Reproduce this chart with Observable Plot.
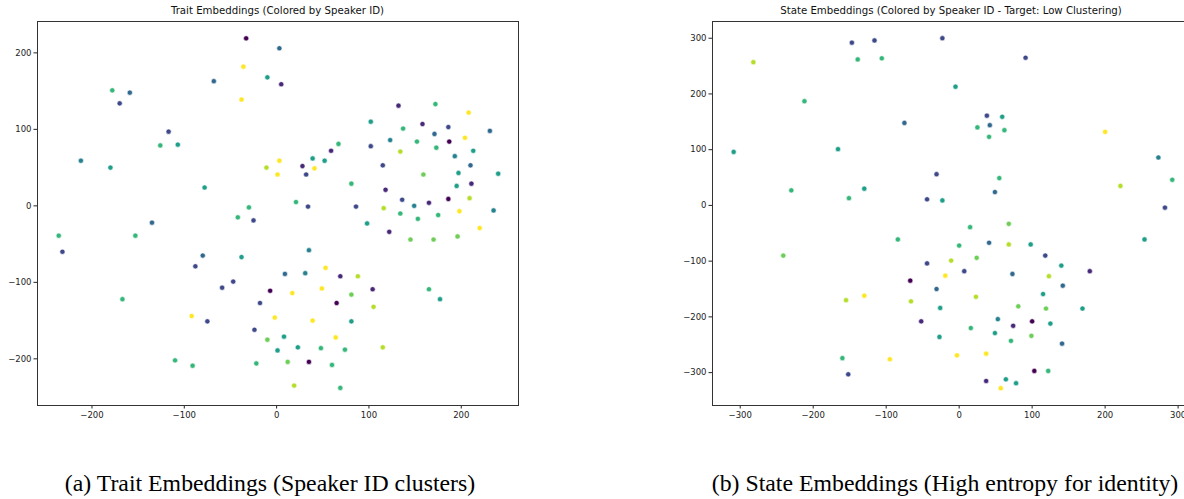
<!DOCTYPE html>
<html>
<head>
<meta charset="utf-8">
<script src="https://cdn.jsdelivr.net/npm/d3@7"></script>
<script src="https://cdn.jsdelivr.net/npm/@observablehq/plot@0.6"></script>
<style>
  html, body { margin: 0; padding: 0; background: #fff; }
  body { width: 1184px; height: 499px; position: relative; overflow: hidden; }
  .panel { position: absolute; top: 0; width: 600px; height: 499px; }
  .panel svg { max-width: none !important; }
  .title { position: absolute; top: 6px; font-family: "DejaVu Sans", sans-serif; font-size: 10.2px; line-height: 1; color: #111; transform: translateX(-50%); white-space: nowrap; }
  .caption { position: absolute; top: 472px; font-family: "Liberation Serif", "Times New Roman", serif; font-size: 23.8px; line-height: 1; color: #000; transform: translateX(-50%); white-space: nowrap; }
</style>
</head>
<body>
<div id="left" class="panel" style="left:0px"></div>
<div id="right" class="panel" style="left:600px"></div>
<div class="title" style="left:277.5px">Trait Embeddings (Colored by Speaker ID)</div>
<div class="title" style="left:951px">State Embeddings (Colored by Speaker ID - Target: Low Clustering)</div>
<div class="caption" style="left:270px">(a) Trait Embeddings (Speaker ID clusters)</div>
<div class="caption" style="left:945px">(b) State Embeddings (High entropy for identity)</div>
<script>
// ---- Trait embeddings (panel a) ----
const traitX = [-33,3,-36,-10,5,-68,-38,-178,-170,-159,-117,-126,-107,-212,-180,-78,-11,1,3,21,-30,-42,-25,
  132,172,208,102,137,158,186,171,231,123,152,173,187,204,102,134,193,213,67,59,39,52,28,32,41,115,159,197,210,240,
  81,118,195,211,34,86,136,149,165,186,209,116,198,235,134,153,175,98,122,145,170,196,220,
  -38,35,9,31,53,69,88,-7,17,49,81,104,65,-18,-2,39,105,81,-24,8,-10,1,23,48,74,64,115,-22,12,35,60,19,69,165,177,
  -236,-232,-153,-135,-80,-88,-47,-59,-167,-92,-75,-110,-91];
const traitY = [219,206,182,168,159,163,139,151,134,148,97,79,80,59,50,24,50,41,59,5,-2,-15,-19,
  131,133,122,110,101,107,103,94,98,86,84,76,84,89,78,71,65,72,81,72,62,59,52,41,49,53,41,43,53,42,
  29,21,26,29,-1,-1,8,0,4,9,10,-3,-7,-6,-10,-17,-12,-23,-34,-44,-44,-40,-29,
  -67,-58,-89,-88,-81,-92,-92,-111,-114,-108,-116,-109,-127,-127,-146,-150,-132,-151,-162,-171,-175,-189,-185,-186,-188,-172,-185,-206,-204,-204,-208,-235,-238,-109,-122,
  -39,-60,-39,-22,-65,-79,-99,-107,-122,-144,-151,-202,-209];
const traitSpeaker = [0,3,9,5,1,3,9,6,2,3,2,6,5,4,5,5,8,9,9,6,6,6,2,
  1,6,9,5,6,1,2,3,3,4,6,6,0,9,2,8,4,5,6,1,5,5,1,2,9,2,7,5,3,5,
  6,1,5,1,2,2,2,4,1,0,8,8,9,4,6,6,6,5,1,7,7,7,9,
  5,4,3,4,9,1,8,0,9,9,7,1,0,2,9,9,8,5,2,5,7,5,5,6,6,9,8,6,7,0,6,8,6,6,5,
  6,2,6,3,3,2,2,2,6,9,2,6,6];

// ---- State embeddings (panel b) ----
const stateX = [-282,-147,-116,-139,-106,-212,-75,-309,-166,-230,-151,-130,-31,-44,-23,91,-5,38,59,42,25,62,41,200,273,292,221,282,55,49,-23,
  254,15,68,0,41,68,98,-11,24,-44,118,140,179,7,-19,73,123,-31,142,23,115,-26,81,119,169,-52,53,100,74,125,16,49,99,71,-27,141,-3,37,103,122,37,64,78,57,
  -84,-241,-67,-155,-130,-66,-160,-95,-152];
const stateY = [257,292,296,262,264,187,148,96,101,27,13,30,56,11,300,265,213,161,159,144,140,135,123,132,86,46,35,-4,49,24,9,
  -61,-39,-33,-72,-67,-70,-70,-99,-94,-104,-90,-108,-118,-118,-126,-123,-127,-150,-144,-164,-159,-184,-181,-185,-185,-208,-204,-208,-216,-212,-220,-229,-234,-243,-236,-248,-269,-266,-297,-297,-315,-312,-319,-328,
  -61,-90,-135,-170,-162,-172,-274,-276,-303];
const stateSpeaker = [8,2,2,6,6,6,3,5,5,6,6,5,2,2,2,2,5,2,5,3,6,6,6,9,4,6,8,2,6,3,5,
  5,6,7,6,3,8,5,8,7,2,2,5,1,2,9,3,8,3,3,8,5,5,7,7,5,1,4,0,1,5,6,5,7,6,5,3,9,9,0,6,1,5,5,9,
  6,7,0,8,9,8,6,9,2];

const trait = traitX.map((x, i) => ({x, y: traitY[i], speaker: traitSpeaker[i]}));
const state = stateX.map((x, i) => ({x, y: stateY[i], speaker: stateSpeaker[i]}));

const fmt = d => d < 0 ? "\u2212" + Math.abs(d) : String(d);
const style = {fontFamily: "DejaVu Sans, sans-serif", fontSize: "8.5px", color: "#222", background: "white", overflow: "visible", maxWidth: "none"};

function panel(data, opts) {
  return Plot.plot({
    width: opts.width, height: 499,
    marginLeft: opts.ml, marginRight: opts.mr, marginTop: 21, marginBottom: 94,
    style,
    x: {domain: opts.xd, ticks: opts.xt, tickFormat: fmt, label: null, tickSize: 3.5, tickPadding: 2.5},
    y: {domain: opts.yd, ticks: opts.yt, tickFormat: fmt, label: null, tickSize: 3.5, tickPadding: 2.5},
    color: {type: "sequential", scheme: "viridis", domain: [0, 9]},
    marks: [
      Plot.dot(data, {x: "x", y: "y", fill: "speaker", r: 2.6, stroke: "white", strokeWidth: 0.6}),
      Plot.frame({stroke: "#333", strokeWidth: 1})
    ]
  });
}

document.getElementById("left").append(panel(trait, {
  width: 600, ml: 37, mr: 82, xd: [-259, 262], yd: [-261, 241],
  xt: [-200, -100, 0, 100, 200], yt: [-200, -100, 0, 100, 200]
}));
document.getElementById("right").append(panel(state, {
  width: 600, ml: 112, mr: 10, xd: [-338, 317], yd: [-359, 330],
  xt: [-300, -200, -100, 0, 100, 200, 300], yt: [-300, -200, -100, 0, 100, 200, 300]
}));
</script>
</body>
</html>
